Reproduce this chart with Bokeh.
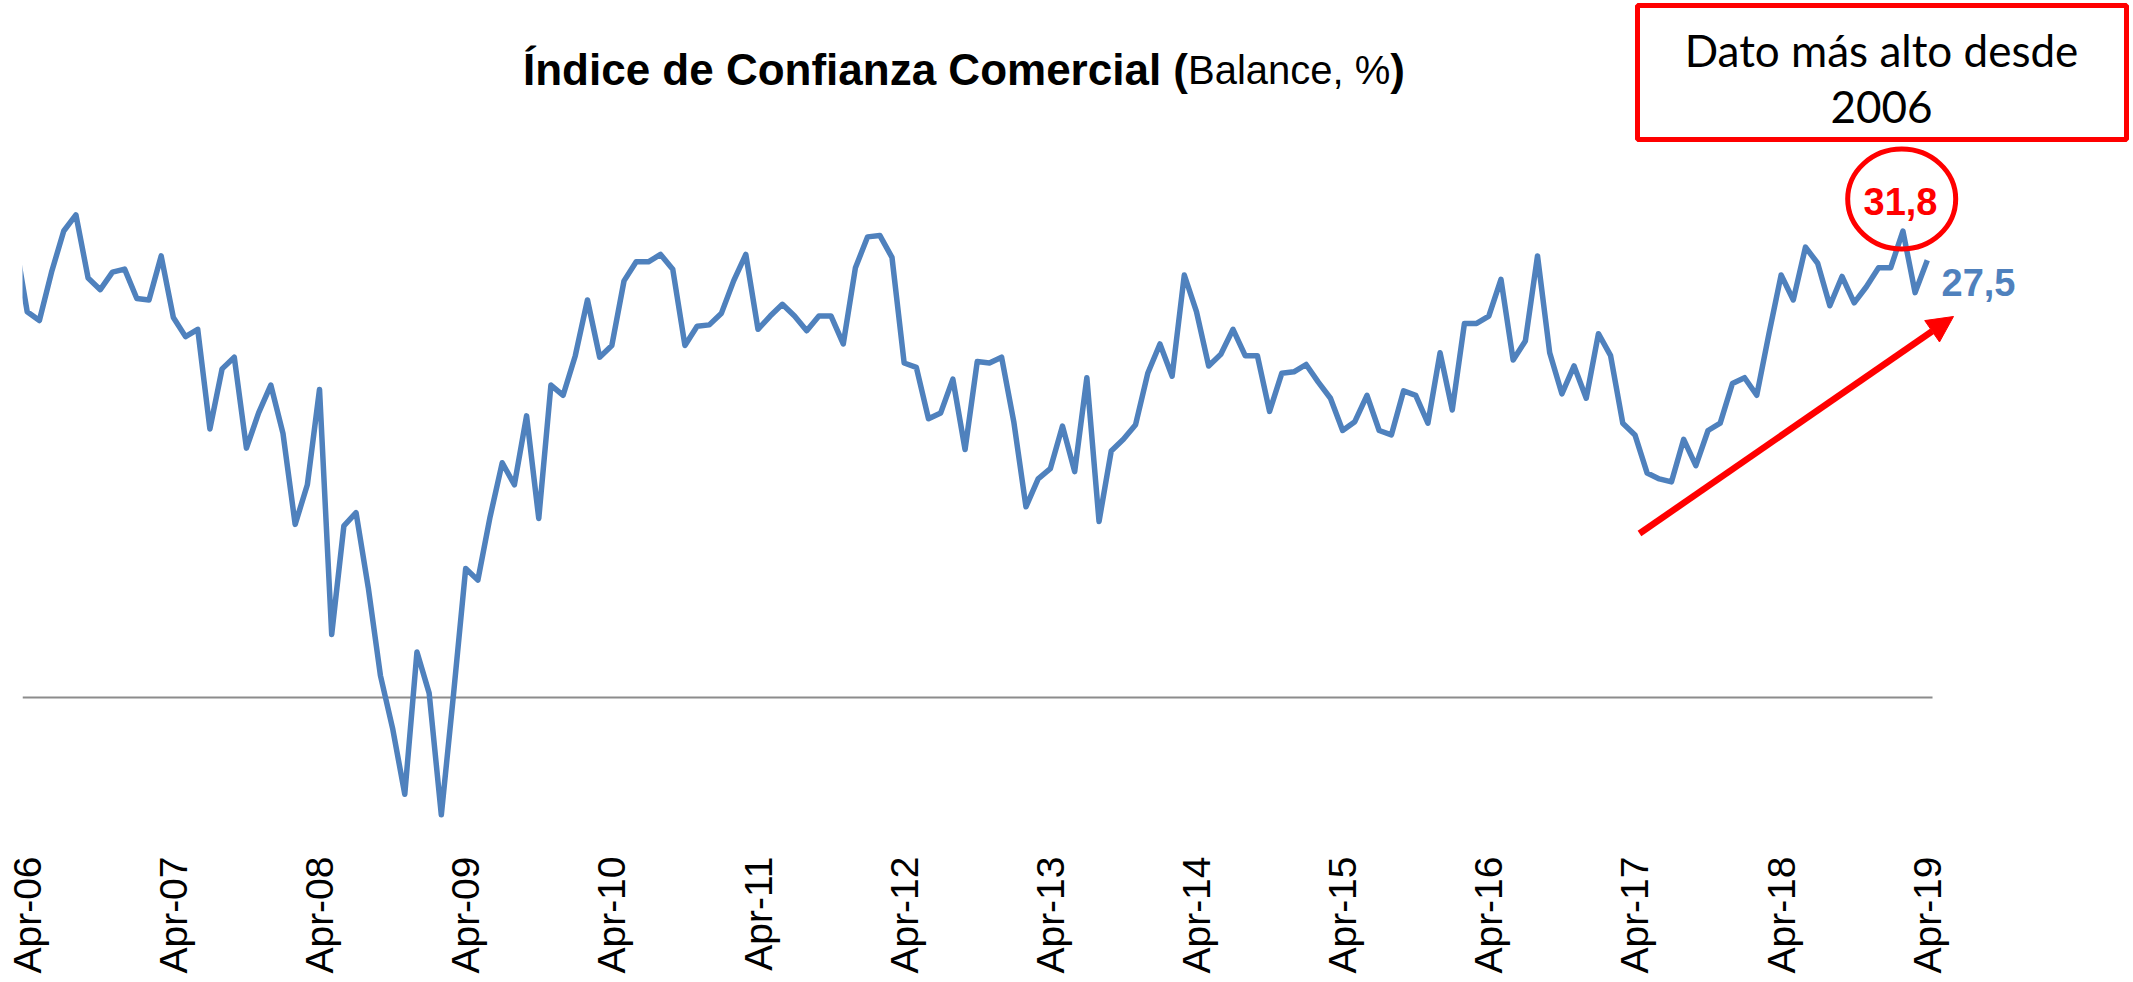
import math
import pandas as pd
from bokeh.plotting import figure
from bokeh.models import Range1d, FixedTicker, Label, BoxAnnotation, Arrow, NormalHead
from bokeh.embed import file_html
from bokeh.resources import INLINE

# ---------------- data ----------------
first_month = "2006-03-01"   # first stored month (Mar-06, only partially visible)
confianza = [
    31.2,                                                        # Mar-06
    26.3, 25.7, 29.0, 31.8, 32.9, 28.6, 27.8, 29.0, 29.2, 27.2, 27.1, 30.1,   # Apr-06..Mar-07
    25.9, 24.6, 25.1, 18.3, 22.4, 23.2, 17.0, 19.4, 21.3, 18.0, 11.8, 14.5,   # Apr-07..Mar-08
    21.0, 4.3, 11.7, 12.6, 7.5, 1.5, -2.1, -6.6, 3.1, 0.3, -8.0, 0.2,         # Apr-08..Mar-09
    8.8, 8.0, 12.3, 16.0, 14.5, 19.2, 12.2, 21.3, 20.6, 23.3, 27.1, 23.2,     # Apr-09..Mar-10
    24.0, 28.4, 29.7, 29.7, 30.2, 29.2, 24.0, 25.3, 25.4, 26.2, 28.4, 30.2,   # Apr-10..Mar-11
    25.1, 26.0, 26.8, 26.0, 25.0, 26.0, 26.0, 24.1, 29.3, 31.4, 31.5, 30.0,   # Apr-11..Mar-12
    22.8, 22.5, 19.0, 19.4, 21.7, 16.9, 22.9, 22.8, 23.2, 18.8, 13.0, 14.9,   # Apr-12..Mar-13
    15.6, 18.5, 15.4, 21.8, 12.0, 16.8, 17.6, 18.6, 22.1, 24.1, 21.9, 28.8,   # Apr-13..Mar-14
    26.3, 22.6, 23.4, 25.1, 23.3, 23.3, 19.5, 22.1, 22.2, 22.7, 21.5, 20.4,   # Apr-14..Mar-15
    18.2, 18.8, 20.6, 18.2, 17.9, 20.9, 20.6, 18.7, 23.5, 19.6, 25.5, 25.5,   # Apr-15..Mar-16
    26.0, 28.5, 23.0, 24.3, 30.1, 23.5, 20.7, 22.6, 20.4, 24.8, 23.3, 18.7,   # Apr-16..Mar-17
    17.9, 15.3, 14.9, 14.7, 17.6, 15.8, 18.2, 18.7, 21.4, 21.8, 20.6, 24.8,   # Apr-17..Mar-18
    28.8, 27.1, 30.7, 29.6, 26.7, 28.7, 26.9, 28.0, 29.3, 29.3, 31.8, 27.6,   # Apr-18..Mar-19
    29.8,                                                        # Apr-19
]
tick_labels = ["Apr-06", "Apr-07", "Apr-08", "Apr-09", "Apr-10", "Apr-11", "Apr-12",
               "Apr-13", "Apr-14", "Apr-15", "Apr-16", "Apr-17", "Apr-18", "Apr-19"]
peak_label = 31.8
last_label = 27.5
title_bold = "Índice de Confianza Comercial ("
title_normal = "Balance, %"
title_close = ")"
box_lines = ["Dato más alto desde", "2006"]

# ---------------- geometry helpers (page pixels -> data units) ----------------
W, H = 2133, 982
FRAME_L, FRAME_R, FRAME_T, FRAME_B = 22, 2133, 0, 850
X_APR06 = 26.7      # page x of Apr-06
PX_MONTH = 12.18    # px per month
Y_ZERO = 697.0      # page y of value 0
PX_UNIT = 14.67     # px per index point

def dx(px):
    return (px - X_APR06) / PX_MONTH

def dy(py):
    return (Y_ZERO - py) / PX_UNIT

def ty(py, size):
    # baseline position for a Label (empirical baseline shift of the renderer)
    return dy(py - 0.33 * size)

months = pd.date_range(first_month, periods=len(confianza), freq="MS")
apr06 = pd.Timestamp("2006-04-01")
xs = [(m.year - apr06.year) * 12 + (m.month - apr06.month) for m in months]
tick_pos = [12 * i for i in range(len(tick_labels))]

BLUE = "#4F81BD"
RED = "#FF0000"

p = figure(width=W, height=H,
           x_range=Range1d(dx(FRAME_L), dx(FRAME_R)), y_range=Range1d(dy(FRAME_B), dy(FRAME_T)),
           output_backend="svg", toolbar_location=None, y_axis_location=None,
           min_border_left=FRAME_L, min_border_right=W - FRAME_R, min_border_top=FRAME_T,
           min_border_bottom=H - FRAME_B,
           outline_line_color=None, background_fill_color="white", border_fill_color="white")
p.grid.visible = False

ax = p.xaxis[0]
ax.ticker = FixedTicker(ticks=tick_pos)
ax.major_label_overrides = {t: l for t, l in zip(tick_pos, tick_labels)}
ax.axis_line_color = None
ax.major_tick_line_color = None
ax.minor_tick_line_color = None
ax.major_tick_out = 0
ax.major_tick_in = 0
ax.minor_tick_out = 0
ax.major_label_orientation = math.pi / 2
ax.major_label_standoff = 6
ax.major_label_text_font = "Liberation Sans"
ax.major_label_text_font_size = "39px"
ax.major_label_text_color = "black"

# zero reference line (category axis in the original)
p.segment(x0=[dx(FRAME_L)], y0=[0], x1=[xs[-1] + 0.43], y1=[0], line_color="#8c8c8c", line_width=2)

# series
p.line(xs, confianza, line_color=BLUE, line_width=5.5, line_join="round")

# title (mixed bold / normal)
split = 1187.5
bsize, nsize = 44, 40
p.add_layout(Label(x=dx(split), y=ty(84, bsize), text=title_bold, text_align="right",
                   text_baseline="alphabetic", text_font="Liberation Sans",
                   text_font_style="bold", text_font_size=f"{bsize}px", text_color="black"))
p.add_layout(Label(x=dx(split), y=ty(84, bsize), text=title_normal, text_align="left",
                   text_baseline="alphabetic", text_font="Liberation Sans",
                   text_font_style="normal", text_font_size=f"{nsize}px", text_color="black"))
p.add_layout(Label(x=dx(split + 5.058 * nsize), y=ty(84, bsize), text=title_close, text_align="left",
                   text_baseline="alphabetic", text_font="Liberation Sans",
                   text_font_style="bold", text_font_size=f"{bsize}px", text_color="black"))

# red annotation box
p.add_layout(BoxAnnotation(left=dx(1637), right=dx(2126), top=dy(5), bottom=dy(139),
                           fill_alpha=0, line_color=RED, line_alpha=1, line_width=5))
for txt, base in zip(box_lines, [64, 121]):
    p.add_layout(Label(x=dx(1881), y=ty(base, 44), text=txt, text_align="center",
                       text_baseline="alphabetic", text_font="Lato",
                       text_font_size="44px", text_color="black"))

# circle around the peak
peak_x = xs[len(confianza) - 3]
p.ellipse(x=[peak_x - 0.1], y=[dy(198.6)], width=108, height=100,
          width_units="screen", height_units="screen",
          fill_color=None, line_color=RED, line_width=5)
p.add_layout(Label(x=peak_x - 0.2, y=ty(214, 38), text=f"{peak_label:.1f}".replace(".", ","),
                   text_align="center", text_baseline="alphabetic", text_font="Liberation Sans",
                   text_font_style="bold", text_font_size="38px", text_color=RED))

# last value label
p.add_layout(Label(x=dx(1941), y=ty(295, 38), text=f"{last_label:.1f}".replace(".", ","),
                   text_align="left", text_baseline="alphabetic", text_font="Liberation Sans",
                   text_font_style="bold", text_font_size="38px", text_color=BLUE))

# trend arrow
p.add_layout(Arrow(end=NormalHead(size=26, fill_color=RED, line_color=RED, line_width=1),
                   x_start=dx(1639), y_start=dy(533), x_end=dx(1953), y_end=dy(316),
                   line_color=RED, line_width=6.5))

open("out.html", "w").write(file_html(p, INLINE))
